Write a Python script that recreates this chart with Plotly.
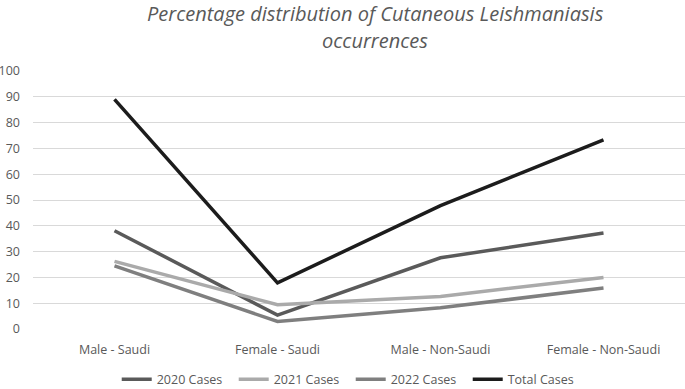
import plotly.graph_objects as go

categories = ["Male - Saudi", "Female - Saudi", "Male - Non-Saudi", "Female - Non-Saudi"]
cases_2020 = [38.1, 5.4, 27.6, 37.2]
cases_2021 = [26.2, 9.4, 12.6, 20.0]
cases_2022 = [24.5, 2.9, 8.2, 15.9]
total_cases = [89.0, 17.9, 47.8, 73.3]
series_names = ["2020 Cases", "2021 Cases", "2022 Cases", "Total Cases"]
series_values = [cases_2020, cases_2021, cases_2022, total_cases]
series_colors = ["#5a5a5a", "#aaaaaa", "#7f7f7f", "#1c1c1c"]
y_ticks = list(range(0, 101, 10))
title_lines = ["Percentage distribution of Cutaneous Leishmaniasis", "occurrences"]

fig = go.Figure()
for name, vals, col in zip(series_names, series_values, series_colors):
    fig.add_trace(go.Scatter(x=categories, y=vals, mode="lines", name=name,
                             line=dict(color=col, width=3.5)))

# title as two annotation lines (centered near x=375 px)
title_y = [1.222, 1.117]
for txt, yy in zip(title_lines, title_y):
    fig.add_annotation(text="<i>" + txt + "</i>", xref="paper", yref="paper",
                       x=(375 - 33) / 652, y=yy, xanchor="center", yanchor="middle",
                       showarrow=False,
                       font=dict(family="Open Sans", size=20, color="#595959"))

fig.update_layout(
    width=685, height=389,
    margin=dict(l=33, r=0, t=71, b=60, autoexpand=False),
    paper_bgcolor="white", plot_bgcolor="white",
    font=dict(family="Open Sans", size=12, color="#595959"),
    xaxis=dict(showgrid=False, showline=False, zeroline=False, ticks="",
               range=[-0.5, 3.5], ticklabelstandoff=11,
               tickfont=dict(size=12.5, color="#595959")),
    yaxis=dict(range=[0, 100], tickvals=y_ticks, showgrid=True, gridcolor="#d9d9d9",
               gridwidth=1, zeroline=False, showline=False, ticks="",
               ticklabelstandoff=12,
               tickfont=dict(size=12.5, color="#595959")),
    legend=dict(orientation="h", x=0.512, xanchor="center", xref="container",
                yref="container", y=0.024, yanchor="middle",
                font=dict(size=12.5, color="#595959"),
                itemwidth=30, entrywidth=72, entrywidthmode="pixels"),
    showlegend=True,
)

fig.write_html("out.html", config={"displayModeBar": False},
               post_script="document.body.style.margin='0';document.body.style.padding='0';document.body.style.overflow='hidden';")
